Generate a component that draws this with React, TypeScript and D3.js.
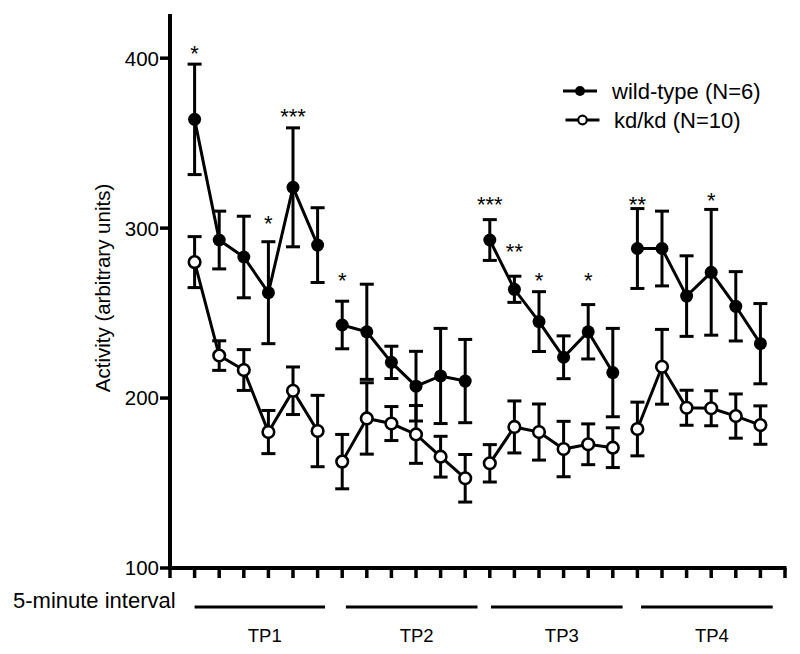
import { useEffect, useRef } from 'react';
import * as d3 from 'd3';

// 5-minute intervals 1..24, four test periods of six
const wtMean = [364, 293, 283, 262, 324, 290, 243, 239, 221, 207, 213, 210, 293, 264, 245, 224, 239, 215, 288, 288, 260, 274, 254, 232];
const wtErr = [32.5, 17, 24, 30, 35, 22, 14, 28, 9.5, 20.5, 28, 24.5, 12, 7.7, 17.6, 12.6, 16, 26, 23.5, 22, 23.7, 37, 20.4, 23.6];
const kdMean = [280, 225, 216.5, 180, 204.3, 180.6, 162.6, 188, 185, 178.6, 165.5, 152.8, 161.6, 183, 180, 170, 172.8, 170.8, 181.8, 218.4, 194.3, 194, 189.4, 184.1];
const kdErr = [15, 8.7, 12, 12.7, 14, 21, 16, 21, 10, 17, 12, 14, 11, 15.3, 16.5, 16.3, 12, 11.7, 15.8, 22, 10.3, 10.3, 13, 11.3];

// significance marks above the wild-type bars (value = where the mark sits)
const starIndex = [1, 4, 5, 7, 13, 14, 15, 17, 19, 22];
const starText = ['*', '*', '***', '*', '***', '**', '*', '*', '**', '*'];
const starValue = [404, 304, 367, 270, 315, 287, 270, 270, 315, 317];

const yTicks = [100, 200, 300, 400];
const groups = ['TP1', 'TP2', 'TP3', 'TP4'];
const groupStart = [1, 7.15, 13.05, 19.15];
const groupEnd = [6.3, 12.5, 18.4, 24.5];

const legendLabels = ['wild-type (N=6)', 'kd/kd (N=10)'];

const W = 800;
const H = 654;
const FONT = '"Liberation Sans", Arial, sans-serif';

export default function App() {
  const svgRef = useRef<SVGSVGElement>(null);

  useEffect(() => {
    if (!svgRef.current) return;
    const svg = d3.select(svgRef.current);
    svg.selectAll('*').remove();

    const x = d3.scaleLinear().domain([0, 25]).range([170, 785]);
    const y = d3.scaleLinear().domain([100, 426]).range([568, 14]);
    const idx = d3.range(1, 25);

    const g = svg.append('g');

    // axes
    g.append('line')
      .attr('x1', x(0)).attr('x2', x(0))
      .attr('y1', y(426)).attr('y2', y(100) + 1.5)
      .attr('stroke', '#000').attr('stroke-width', 4);
    g.append('line')
      .attr('x1', x(0) - 2).attr('x2', x(25) + 1.5)
      .attr('y1', y(100)).attr('y2', y(100))
      .attr('stroke', '#000').attr('stroke-width', 4);

    g.selectAll('.ytick')
      .data(yTicks)
      .join('line')
      .attr('x1', x(0) - 10).attr('x2', x(0))
      .attr('y1', (d) => y(d)).attr('y2', (d) => y(d))
      .attr('stroke', '#000').attr('stroke-width', 3.5);
    g.selectAll('.ylab')
      .data(yTicks)
      .join('text')
      .attr('x', x(0) - 11)
      .attr('y', (d) => y(d))
      .attr('dy', '0.36em')
      .attr('text-anchor', 'end')
      .attr('font-size', 20.5)
      .attr('font-family', FONT)
      .text((d) => d);

    g.selectAll('.xtick')
      .data(d3.range(0, 26))
      .join('line')
      .attr('x1', (d) => x(d)).attr('x2', (d) => x(d))
      .attr('y1', y(100)).attr('y2', y(100) + 10)
      .attr('stroke', '#000').attr('stroke-width', 3.5);

    g.append('text')
      .attr('transform', `translate(103,288) rotate(-90)`)
      .attr('text-anchor', 'middle')
      .attr('dy', '0.36em')
      .attr('font-size', 20.5)
      .attr('font-family', FONT)
      .text('Activity (arbitrary units)');

    g.append('text')
      .attr('x', 13).attr('y', 600)
      .attr('dy', '0.36em')
      .attr('font-size', 22)
      .attr('font-family', FONT)
      .text('5-minute interval');

    groups.forEach((name, i) => {
      g.append('line')
        .attr('x1', x(groupStart[i])).attr('x2', x(groupEnd[i]))
        .attr('y1', 607).attr('y2', 607)
        .attr('stroke', '#000').attr('stroke-width', 3);
      g.append('text')
        .attr('x', (x(groupStart[i]) + x(groupEnd[i])) / 2 + 5)
        .attr('y', 635)
        .attr('dy', '0.36em')
        .attr('text-anchor', 'middle')
        .attr('font-size', 18.5)
        .attr('font-family', FONT)
        .text(name);
    });

    const line = d3.line<number>().x((i) => x(i + 1));

    const drawSeries = (mean: number[], err: number[], filled: boolean) => {
      const s = g.append('g');
      idx.forEach((t, i) => {
        const cx = x(t);
        const top = y(mean[i] + err[i]);
        const bot = y(mean[i] - err[i]);
        s.append('line').attr('x1', cx).attr('x2', cx).attr('y1', top).attr('y2', bot)
          .attr('stroke', '#000').attr('stroke-width', 3);
        [top, bot].forEach((cy) =>
          s.append('line').attr('x1', cx - 7).attr('x2', cx + 7).attr('y1', cy).attr('y2', cy)
            .attr('stroke', '#000').attr('stroke-width', 3)
        );
      });
      for (let k = 0; k < 4; k++) {
        const seg = d3.range(k * 6, k * 6 + 6);
        s.append('path')
          .attr('d', line.y((i) => y(mean[i]))(seg))
          .attr('fill', 'none')
          .attr('stroke', '#000')
          .attr('stroke-width', 3);
      }
      s.selectAll('circle')
        .data(idx)
        .join('circle')
        .attr('cx', (t) => x(t))
        .attr('cy', (t) => y(mean[t - 1]))
        .attr('r', filled ? 6.5 : 5.8)
        .attr('fill', filled ? '#000' : '#fff')
        .attr('stroke', '#000')
        .attr('stroke-width', filled ? 0 : 2.6);
    };

    drawSeries(kdMean, kdErr, false);
    drawSeries(wtMean, wtErr, true);

    // asterisk glyph sits high in the em box: shift baseline so the glyph centres on the value
    g.selectAll('.star')
      .data(starIndex)
      .join('text')
      .attr('x', (t) => x(t))
      .attr('y', (_, i) => y(starValue[i]))
      .attr('dy', '0.42em')
      .attr('text-anchor', 'middle')
      .attr('font-size', 22)
      .attr('font-family', FONT)
      .text((_, i) => starText[i]);

    // legend
    const lg = g.append('g');
    legendLabels.forEach((label, i) => {
      const ly = 91 + i * 29;
      const lx = 580 + i * 2.5;
      lg.append('line').attr('x1', lx - 17).attr('x2', lx + 17).attr('y1', ly).attr('y2', ly)
        .attr('stroke', '#000').attr('stroke-width', 3);
      lg.append('circle').attr('cx', lx).attr('cy', ly)
        .attr('r', i === 0 ? 5 : 4.3)
        .attr('fill', i === 0 ? '#000' : '#fff')
        .attr('stroke', '#000').attr('stroke-width', i === 0 ? 0 : 2.2);
      lg.append('text')
        .attr('x', 612 + i * 2)
        .attr('y', ly)
        .attr('dy', '0.36em')
        .attr('font-size', 22)
        .attr('font-family', FONT)
        .text(label);
    });
  }, []);

  return (
    <svg
      ref={svgRef}
      width={W}
      height={H}
      style={{ position: 'fixed', left: 0, top: 0, background: '#fff', display: 'block' }}
    />
  );
}
